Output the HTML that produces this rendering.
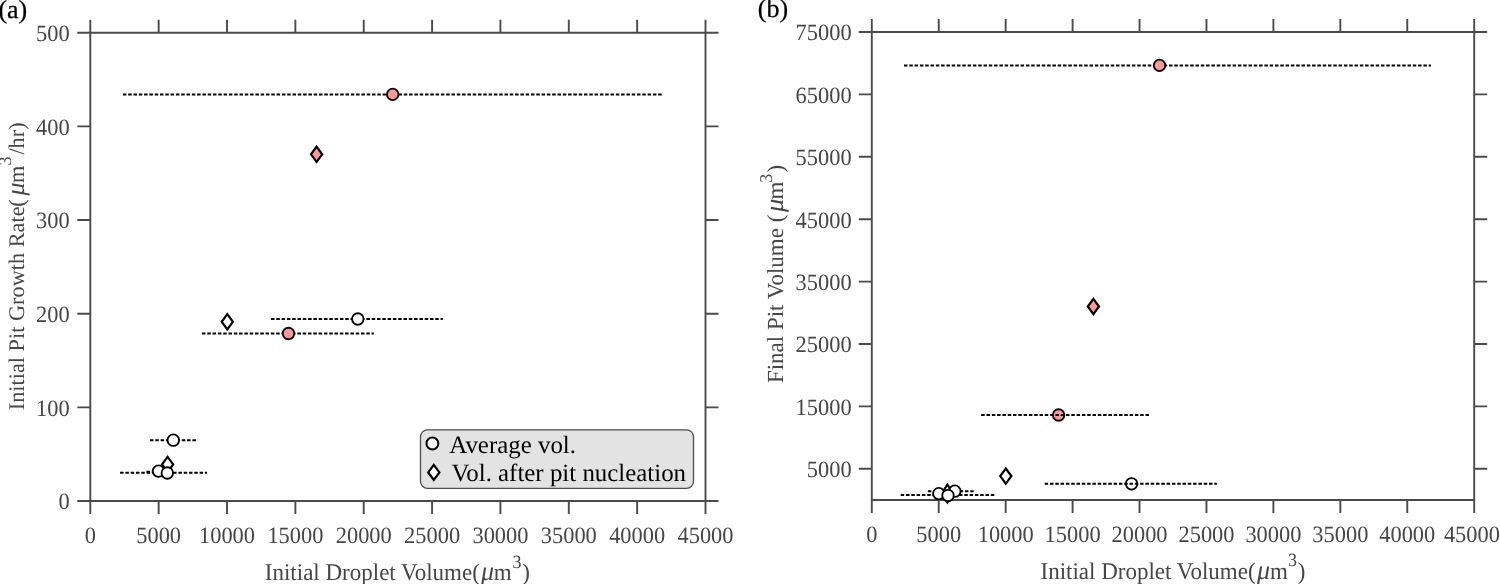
<!DOCTYPE html>
<html><head><meta charset="utf-8"><title>chart</title>
<style>html,body{margin:0;padding:0;background:#fff;}body{width:1500px;height:584px;overflow:hidden;font-family:"Liberation Serif",serif;}svg{display:block;will-change:transform;text-rendering:geometricPrecision;}</style>
</head><body>
<svg width="1500" height="584" viewBox="0 0 1500 584">
<path d="M90.3 32.7H705.5V501.0H90.3Z" fill="none" stroke="#4a4a4a" stroke-width="1.9"/>
<path d="M90.30 501.0v13M90.30 32.7v-13M158.66 501.0v13M158.66 32.7v-13M227.01 501.0v13M227.01 32.7v-13M295.37 501.0v13M295.37 32.7v-13M363.72 501.0v13M363.72 32.7v-13M432.08 501.0v13M432.08 32.7v-13M500.43 501.0v13M500.43 32.7v-13M568.79 501.0v13M568.79 32.7v-13M637.14 501.0v13M637.14 32.7v-13M705.50 501.0v13M705.50 32.7v-13M90.3 501.00h-13M705.5 501.00h13M90.3 407.34h-13M705.5 407.34h13M90.3 313.68h-13M705.5 313.68h13M90.3 220.02h-13M705.5 220.02h13M90.3 126.36h-13M705.5 126.36h13M90.3 32.70h-13M705.5 32.70h13" fill="none" stroke="#4a4a4a" stroke-width="1.9"/>
<g font-family="'Liberation Serif', serif" font-size="22.4" fill="#464646" text-anchor="middle">
<text transform="translate(90.30 535.5) scale(1 1.045)" y="7.35">0</text>
<text transform="translate(158.66 535.5) scale(1 1.045)" y="7.35">5000</text>
<text transform="translate(227.01 535.5) scale(1 1.045)" y="7.35">10000</text>
<text transform="translate(295.37 535.5) scale(1 1.045)" y="7.35">15000</text>
<text transform="translate(363.72 535.5) scale(1 1.045)" y="7.35">20000</text>
<text transform="translate(432.08 535.5) scale(1 1.045)" y="7.35">25000</text>
<text transform="translate(500.43 535.5) scale(1 1.045)" y="7.35">30000</text>
<text transform="translate(568.79 535.5) scale(1 1.045)" y="7.35">35000</text>
<text transform="translate(637.14 535.5) scale(1 1.045)" y="7.35">40000</text>
<text transform="translate(705.50 535.5) scale(1 1.045)" y="7.35">45000</text>
</g>
<g font-family="'Liberation Serif', serif" font-size="22.4" fill="#464646" text-anchor="end">
<text transform="translate(69.7 501.60) scale(1 1.045)" y="7.35">0</text>
<text transform="translate(69.7 407.94) scale(1 1.045)" y="7.35">100</text>
<text transform="translate(69.7 314.28) scale(1 1.045)" y="7.35">200</text>
<text transform="translate(69.7 220.62) scale(1 1.045)" y="7.35">300</text>
<text transform="translate(69.7 126.96) scale(1 1.045)" y="7.35">400</text>
<text transform="translate(69.7 33.30) scale(1 1.045)" y="7.35">500</text>
</g>
<path d="M871.8 32.0H1474.2V500.0H871.8Z" fill="none" stroke="#4a4a4a" stroke-width="1.9"/>
<path d="M871.80 500.0v13M871.80 32.0v-13M938.73 500.0v13M938.73 32.0v-13M1005.67 500.0v13M1005.67 32.0v-13M1072.60 500.0v13M1072.60 32.0v-13M1139.53 500.0v13M1139.53 32.0v-13M1206.47 500.0v13M1206.47 32.0v-13M1273.40 500.0v13M1273.40 32.0v-13M1340.33 500.0v13M1340.33 32.0v-13M1407.27 500.0v13M1407.27 32.0v-13M1474.20 500.0v13M1474.20 32.0v-13M871.8 468.80h-13M1474.2 468.80h13M871.8 406.40h-13M1474.2 406.40h13M871.8 344.00h-13M1474.2 344.00h13M871.8 281.60h-13M1474.2 281.60h13M871.8 219.20h-13M1474.2 219.20h13M871.8 156.80h-13M1474.2 156.80h13M871.8 94.40h-13M1474.2 94.40h13M871.8 32.00h-13M1474.2 32.00h13" fill="none" stroke="#4a4a4a" stroke-width="1.9"/>
<g font-family="'Liberation Serif', serif" font-size="22.4" fill="#464646" text-anchor="middle">
<text transform="translate(871.80 534.3) scale(1 1.045)" y="7.35">0</text>
<text transform="translate(938.73 534.3) scale(1 1.045)" y="7.35">5000</text>
<text transform="translate(1005.67 534.3) scale(1 1.045)" y="7.35">10000</text>
<text transform="translate(1072.60 534.3) scale(1 1.045)" y="7.35">15000</text>
<text transform="translate(1139.53 534.3) scale(1 1.045)" y="7.35">20000</text>
<text transform="translate(1206.47 534.3) scale(1 1.045)" y="7.35">25000</text>
<text transform="translate(1273.40 534.3) scale(1 1.045)" y="7.35">30000</text>
<text transform="translate(1340.33 534.3) scale(1 1.045)" y="7.35">35000</text>
<text transform="translate(1407.27 534.3) scale(1 1.045)" y="7.35">40000</text>
<text transform="translate(1471.90 534.3) scale(1 1.045)" y="7.35">45000</text>
</g>
<g font-family="'Liberation Serif', serif" font-size="22.4" fill="#464646" text-anchor="end">
<text transform="translate(851.6 469.50) scale(1 1.045)" y="7.35">5000</text>
<text transform="translate(851.6 407.10) scale(1 1.045)" y="7.35">15000</text>
<text transform="translate(851.6 344.70) scale(1 1.045)" y="7.35">25000</text>
<text transform="translate(851.6 282.30) scale(1 1.045)" y="7.35">35000</text>
<text transform="translate(851.6 219.90) scale(1 1.045)" y="7.35">45000</text>
<text transform="translate(851.6 157.50) scale(1 1.045)" y="7.35">55000</text>
<text transform="translate(851.6 95.10) scale(1 1.045)" y="7.35">65000</text>
<text transform="translate(851.6 32.70) scale(1 1.045)" y="7.35">75000</text>
</g>
<path d="M316.6 146.70L322.20 154.3L316.6 161.90L311.00 154.3Z" fill="#ff9999" stroke="#000" stroke-width="2.2"/>
<path d="M227.3 314.20L232.90 321.8L227.3 329.40L221.70 321.8Z" fill="#fff" stroke="#000" stroke-width="2.2"/>
<path d="M167.6 456.80L173.20 464.4L167.6 472.00L162.00 464.4Z" fill="#fff" stroke="#000" stroke-width="2.2"/>
<path d="M122.9 94.6H661.8" stroke="#000" stroke-width="2.0" stroke-dasharray="3.5 1.8"/>
<path d="M271.0 319.0H442.8" stroke="#000" stroke-width="2.0" stroke-dasharray="3.5 1.8"/>
<path d="M202.0 333.4H373.8" stroke="#000" stroke-width="2.0" stroke-dasharray="3.5 1.8"/>
<path d="M150.0 440.2H196.2" stroke="#000" stroke-width="2.0" stroke-dasharray="3.5 1.8"/>
<path d="M146.5 471.8H171.0" stroke="#000" stroke-width="2.0" stroke-dasharray="3.5 1.8"/>
<path d="M120.1 472.8H207.1" stroke="#000" stroke-width="2.0" stroke-dasharray="3.5 1.8"/>
<circle cx="392.7" cy="94.4" r="5.75" fill="#ff9999" stroke="#000" stroke-width="1.8"/>
<circle cx="357.8" cy="319.0" r="5.75" fill="#fff" stroke="#000" stroke-width="1.8"/>
<circle cx="288.5" cy="333.5" r="5.75" fill="#ff9999" stroke="#000" stroke-width="1.8"/>
<circle cx="173.3" cy="440.2" r="5.75" fill="#fff" stroke="#000" stroke-width="1.8"/>
<circle cx="158.5" cy="471.1" r="5.75" fill="#fff" stroke="#000" stroke-width="1.8"/>
<circle cx="167.3" cy="473.0" r="5.75" fill="#fff" stroke="#000" stroke-width="1.8"/>
<path d="M1093.4 298.90L1099.00 306.5L1093.4 314.10L1087.80 306.5Z" fill="#ff9999" stroke="#000" stroke-width="2.2"/>
<path d="M1005.8 468.50L1011.40 476.1L1005.8 483.70L1000.20 476.1Z" fill="#fff" stroke="#000" stroke-width="2.2"/>
<path d="M947.4 484.50L953.00 493.5L947.4 502.50L941.80 493.5Z" fill="#fff" stroke="#000" stroke-width="2.2"/>
<path d="M904.0 65.5H1430.9" stroke="#000" stroke-width="2.0" stroke-dasharray="3.5 1.8"/>
<circle cx="1159.5" cy="65.4" r="5.75" fill="#ff9999" stroke="#000" stroke-width="1.8"/>
<circle cx="1058.6" cy="415.0" r="5.75" fill="#ff9999" stroke="#000" stroke-width="1.8"/>
<path d="M981.2 414.9H1149.0" stroke="#000" stroke-width="2.0" stroke-dasharray="3.5 1.8"/>
<circle cx="1131.6" cy="483.8" r="5.75" fill="#fff" stroke="#000" stroke-width="1.8"/>
<path d="M1044.7 483.8H1216.9" stroke="#000" stroke-width="2.0" stroke-dasharray="3.5 1.8"/>
<path d="M927.9 491.2H973.7" stroke="#000" stroke-width="2.0" stroke-dasharray="3.5 1.8"/>
<path d="M900.7 494.9H994.7" stroke="#000" stroke-width="2.0" stroke-dasharray="3.5 1.8"/>
<circle cx="938.8" cy="493.6" r="5.75" fill="#fff" stroke="#000" stroke-width="1.8"/>
<circle cx="954.8" cy="491.2" r="5.75" fill="#fff" stroke="#000" stroke-width="1.8"/>
<circle cx="948.0" cy="495.5" r="5.75" fill="#fff" stroke="#000" stroke-width="1.8"/>
<rect x="420.5" y="429.8" width="273" height="58.5" rx="7" ry="7" fill="#e3e3e3" stroke="#4d4d4d" stroke-width="1.3"/>
<circle cx="432.4" cy="443.5" r="5.9" fill="#fff" stroke="#000" stroke-width="2"/>
<path d="M433.8 464.80L439.40 472.4L433.8 480.00L428.20 472.4Z" fill="#fff" stroke="#000" stroke-width="2.2"/>
<g font-family="'Liberation Serif', serif" font-size="24.9" fill="#000">
<text x="449.3" y="453">Average vol.</text>
<text x="451.5" y="480.5">Vol. after pit nucleation</text>
</g>
<g font-family="'Liberation Serif', serif" fill="#464646" transform="translate(0 579.6) scale(1 1.04) translate(0 -579.6)">
<text x="264.8" y="579.6" font-size="23">Initial Droplet Volume(</text>
<text x="481.1" y="579.6" font-size="26" font-style="italic">&#956;</text>
<text x="493.8" y="579.6" font-size="23">m</text>
<text x="512.4" y="568.5" font-size="18">3</text>
<text x="522.3" y="579.6" font-size="23">)</text>
</g>
<g font-family="'Liberation Serif', serif" fill="#464646" transform="translate(0 578.7) scale(1 1.04) translate(0 -578.7)">
<text x="1040.5" y="578.7" font-size="23">Initial Droplet Volume(</text>
<text x="1257.0" y="578.7" font-size="26" font-style="italic">&#956;</text>
<text x="1269.9" y="578.7" font-size="23">m</text>
<text x="1287.9" y="566.8" font-size="18">3</text>
<text x="1297.7" y="578.7" font-size="23">)</text>
</g>
<g font-family="'Liberation Serif', serif" fill="#464646" transform="translate(23.6 420) rotate(-90)">
<text x="9.8" y="0" font-size="22.3">Initial Pit Growth Rate</text>
<text x="213.3" y="0" font-size="22.3">(</text>
<text x="224.4" y="0" font-size="26" font-style="italic">&#956;</text>
<text x="236.9" y="0" font-size="22.3">m</text>
<text x="254.6" y="-12.5" font-size="18">3</text>
<text x="265.4" y="0" font-size="22.3">/hr)</text>
</g>
<g font-family="'Liberation Serif', serif" fill="#464646" transform="translate(783 400) rotate(-90)">
<text x="16.9" y="0" font-size="23">Final Pit Volume (</text>
<text x="188.1" y="0" font-size="26.5" font-style="italic">&#956;</text>
<text x="200.5" y="0" font-size="23">m</text>
<text x="217.2" y="-11.5" font-size="18">3</text>
<text x="227.4" y="0" font-size="23">)</text>
</g>
<g font-family="'Liberation Serif', serif" font-size="26" fill="#000" stroke="#000" stroke-width="0.25">
<text x="-1.6" y="17.7">(a)</text>
<text x="757.8" y="17.3">(b)</text>
</g>
</svg>
</body></html>
